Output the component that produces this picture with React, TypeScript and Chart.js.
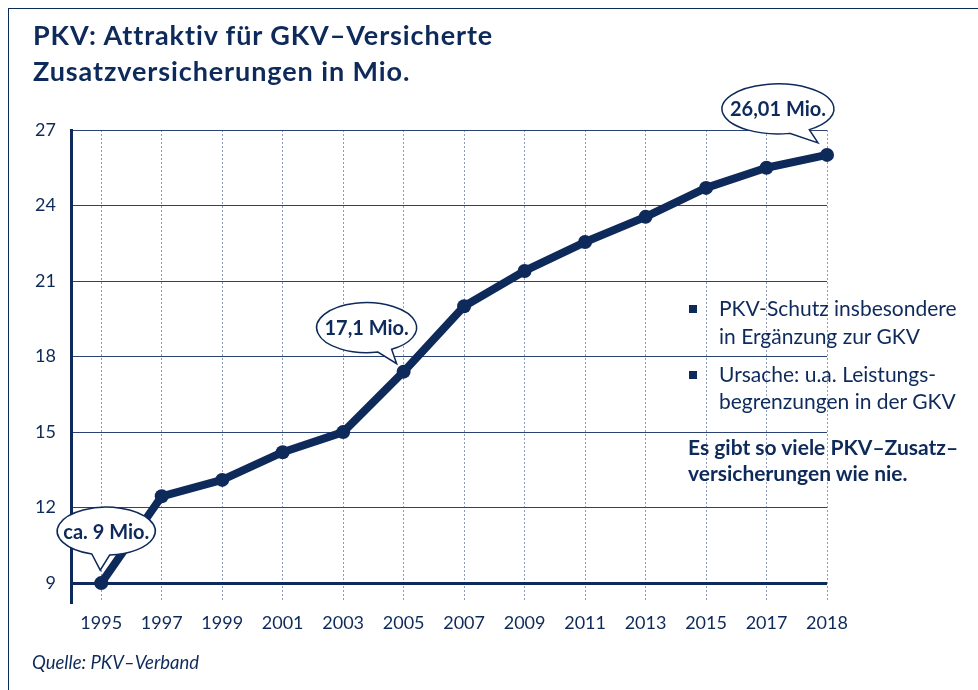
import React, { useEffect, useRef } from 'react';
import { Chart, registerables } from 'chart.js';

Chart.register(...registerables);

const years = ['1995', '1997', '1999', '2001', '2003', '2005', '2007', '2009', '2011', '2013', '2015', '2017', '2018'];
const values = [9.0, 12.45, 13.1, 14.2, 15.0, 17.4, 20.0, 21.4, 22.55, 23.55, 24.7, 25.5, 26.01];
const yTickValues = [9, 12, 15, 18, 21, 24, 27];
const calloutIndex = [0, 5, 12];
const calloutText = ['ca. 9 Mio.', '17,1 Mio.', '26,01 Mio.'];

const NAVY = '#0d2a5a';
const FONT = 'Lato, "Noto Sans", sans-serif';

const bubbleGeom = [
  { dx: 5, dy: -52, rx: 49, ry: 24, tipX: -1, tipY: -13, a1: 107, a2: 86 },
  { dx: -37, dy: -44, rx: 50, ry: 25, tipX: -7, tipY: -8, a1: 77, a2: 60 },
  { dx: -49, dy: -46, rx: 56, ry: 25, tipX: -9, tipY: -12, a1: 78, a2: 56 },
];

const bubblePlugin = {
  id: 'bubbles',
  afterDatasetsDraw(chart: any) {
    const ctx = chart.ctx;
    const meta = chart.getDatasetMeta(0);
    calloutIndex.forEach((idx, k) => {
      const p = meta.data[idx];
      const g = bubbleGeom[k];
      const cx = p.x + g.dx;
      const cy = p.y + g.dy;
      const tx = p.x + g.tipX;
      const ty = p.y + g.tipY;
      const r = Math.PI / 180;
      ctx.save();
      ctx.beginPath();
      ctx.ellipse(cx, cy, g.rx, g.ry, 0, g.a1 * r, g.a2 * r + Math.PI * 2, false);
      ctx.lineTo(tx, ty);
      ctx.closePath();
      ctx.fillStyle = '#ffffff';
      ctx.fill();
      ctx.lineWidth = 1.5;
      ctx.lineJoin = 'miter';
      ctx.strokeStyle = NAVY;
      ctx.stroke();
      ctx.fillStyle = NAVY;
      ctx.font = 'bold 20px ' + FONT;
      ctx.textAlign = 'center';
      ctx.textBaseline = 'middle';
      ctx.fillText(calloutText[k], cx, cy + 1);
      ctx.restore();
    });
  },
};

export default function App() {
  const ref = useRef<HTMLCanvasElement | null>(null);

  useEffect(() => {
    let chart: Chart | null = null;
    let cancelled = false;
    const make = () => {
      if (cancelled || !ref.current) return;
      chart = new Chart(ref.current, {
        type: 'line',
        data: {
          datasets: [
            {
              data: values.map((v, i) => ({ x: i, y: v })),
              borderColor: NAVY,
              backgroundColor: NAVY,
              borderWidth: 8,
              borderJoinStyle: 'round',
              borderCapStyle: 'round',
              pointRadius: 7,
              pointBackgroundColor: NAVY,
              pointBorderWidth: 0,
              tension: 0,
              clip: false as any,
            },
          ],
        },
        options: {
          animation: false,
          responsive: false,
          devicePixelRatio: 1,
          layout: { padding: { left: 0, top: 130, right: 151, bottom: 48 } },
          plugins: { legend: { display: false }, tooltip: { enabled: false }, title: { display: false } },
          scales: {
            x: {
              type: 'linear',
              min: -0.5,
              max: 12,
              afterBuildTicks: (s: any) => {
                s.ticks = years.map((_, i) => ({ value: i }));
              },
              afterFit: (s: any) => {
                s.height = 40;
              },
              grid: { color: '#8d9cbd', lineWidth: 1, drawTicks: false },
              border: { display: false, dash: [2, 2] },
              ticks: {
                autoSkip: false,
                maxRotation: 0,
                padding: 10,
                color: NAVY,
                font: { family: FONT, size: 18 },
                callback: (v: any) => years[v] ?? '',
              },
            },
            y: {
              min: 8.25,
              max: 27,
              afterBuildTicks: (s: any) => {
                s.ticks = yTickValues.map((v) => ({ value: v }));
              },
              afterFit: (s: any) => {
                s.width = 71;
              },
              grid: {
                drawTicks: false,
                color: (c: any) => (c.tick && c.tick.value === 9 ? NAVY : '#2a4373'),
                lineWidth: (c: any) => (c.tick && c.tick.value === 9 ? 3 : 1),
              },
              border: { display: true, color: NAVY, width: 3 },
              ticks: {
                padding: 15,
                color: NAVY,
                font: { family: FONT, size: 18 },
                callback: (v: any) => String(v),
              },
            },
          },
        },
        plugins: [bubblePlugin],
      } as any);
    };
    const fonts = (document as any).fonts;
    if (fonts && fonts.load) {
      Promise.all([fonts.load('18px Lato'), fonts.load('bold 20px Lato')]).then(make, make);
    } else {
      make();
    }
    return () => {
      cancelled = true;
      if (chart) chart.destroy();
    };
  }, []);

  const abs = (extra: React.CSSProperties): React.CSSProperties => ({ position: 'absolute', whiteSpace: 'nowrap', color: NAVY, fontFamily: FONT, ...extra });

  return (
    <div style={{ position: 'fixed', left: 0, top: 0, width: 978, height: 690, overflow: 'hidden', background: '#fff' }}>
      <div style={{ position: 'absolute', left: 8, top: 8, width: 1100, height: 800, border: `1.5px solid ${NAVY}` }} />
      <canvas ref={ref} width={978} height={690} style={{ position: 'absolute', left: 0, top: 0, width: 978, height: 690 }} />
      <div style={abs({ left: 33, top: 17, fontSize: 27, fontWeight: 700, lineHeight: '36px', letterSpacing: '0.9px' })}>
        PKV: Attraktiv für GKV–Versicherte
        <br />
        Zusatzversicherungen in Mio.
      </div>
      <div style={abs({ left: 689, top: 305, width: 8, height: 8, background: NAVY })} />
      <div style={abs({ left: 719, top: 293.5, fontSize: 21, lineHeight: '28px' })}>
        PKV-Schutz insbesondere
        <br />
        in Ergänzung zur GKV
      </div>
      <div style={abs({ left: 689, top: 371, width: 8, height: 8, background: NAVY })} />
      <div style={abs({ left: 719, top: 359.5, fontSize: 21, lineHeight: '27px' })}>
        Ursache: u.a. Leistungs-
        <br />
        begrenzungen in der GKV
      </div>
      <div style={abs({ left: 688, top: 434, fontSize: 21, fontWeight: 700, lineHeight: '26px' })}>
        Es gibt so viele PKV–Zusatz–
        <br />
        versicherungen wie nie.
      </div>
      <div style={abs({ left: 32, top: 652, fontSize: 18.5, fontStyle: 'italic', lineHeight: '21.6px' })}>Quelle: PKV–Verband</div>
    </div>
  );
}
